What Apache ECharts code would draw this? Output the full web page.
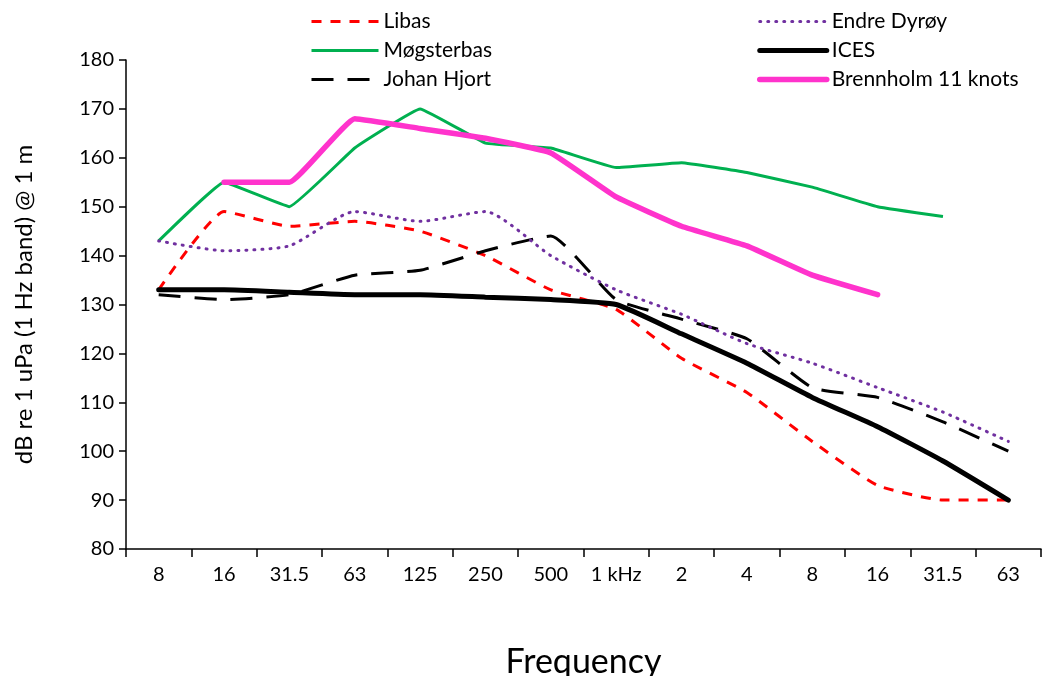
<!DOCTYPE html>
<html><head><meta charset="utf-8">
<script src="https://cdn.jsdelivr.net/npm/echarts@6/dist/echarts.min.js"></script>
<style>html,body{margin:0;padding:0;background:#fff}#c{width:1046px;height:676px}</style>
</head><body><div id="c"></div>
<script>
const categories = ['8','16','31.5','63','125','250','500','1 kHz','2','4','8','16','31.5','63'];
const libas = [133,149,146,147,145,140,133,129,119,112,102,93,90,90];
const mogsterbas = [143,155,150,162,170,163,162,158,159,157,154,150,148,null];
const johanHjort = [132,131,132,136,137,141,144,131,127,123,113,111,106,100];
const endreDyroy = [143,141,142,149,147,149,140,133,128,122,118,113,108,102];
const ices = [133,133,132.5,132,132,131.5,131,130,124,118,111,105,98,90];
const brennholm = [null,155,155,168,166,164,161,152,146,142,136,132,null,null];
const yTicks = {min:80, max:180, interval:10};

const font = 'Lato, "Liberation Sans", sans-serif';
const chart = echarts.init(document.getElementById('c'), null, {renderer:'canvas'});
const styles = {
  'Libas': {color:'#FF0000', width:3, type:[10,9], smooth:0.15, cap:'butt'},
  'Møgsterbas': {color:'#00B050', width:3, type:'solid', smooth:0.08, cap:'butt'},
  'Johan Hjort': {color:'#000000', width:3, type:[22,14], smooth:0.15, cap:'butt'},
  'Endre Dyrøy': {color:'#7030A0', width:3, type:[1,7], smooth:0.2, cap:'round'},
  'ICES': {color:'#000000', width:5, type:'solid', smooth:0.15, cap:'round'},
  'Brennholm 11 knots': {color:'#FF33CC', width:5.5, type:'solid', smooth:0.1, cap:'round'}
};
function s(name, data){
  const st = styles[name];
  return {name, type:'line', data, symbol:'none', showSymbol:false, smooth: st.smooth, connectNulls:false,
    lineStyle:{color:st.color, width:st.width, type:st.type, cap:st.cap}, itemStyle:{color:st.color}, z: 2};
}
function legendItem(name){
  const st = styles[name];
  return {name, itemStyle:{opacity:0, borderWidth:0},
    lineStyle:{color:st.color, width:st.width, type:st.type, cap:st.cap}};
}
const legendCommon = {orient:'vertical', top:6, itemWidth:67, itemHeight:10, itemGap:8,
  itemStyle:{opacity:0, borderWidth:0},
  textStyle:{fontFamily:font, fontSize:21, color:'#000'}};
chart.setOption({
  animation:false,
  grid:{left:126, top:60, right:5, bottom:127, containLabel:false, outerBoundsMode:'none'},
  legend:[
    Object.assign({left:305, data:['Libas','Møgsterbas','Johan Hjort'].map(legendItem)}, legendCommon),
    Object.assign({left:752, data:['Endre Dyrøy','ICES','Brennholm 11 knots'].map(legendItem)}, legendCommon)
  ],
  xAxis:{type:'category', data:categories, boundaryGap:true,
    name:'Frequency', nameLocation:'middle', nameGap:96,
    nameTextStyle:{fontFamily:font, fontSize:34, color:'#000'},
    axisLine:{lineStyle:{color:'#000', width:1.5}},
    axisTick:{show:true, inside:false, length:8, alignWithLabel:false, lineStyle:{color:'#000', width:1.5}},
    axisLabel:{fontFamily:font, fontSize:20, color:'#000', margin:16, interval:0},
    splitLine:{show:false}},
  yAxis:{type:'value', min:yTicks.min, max:yTicks.max, interval:yTicks.interval,
    name:'dB re 1 uPa (1 Hz band) @ 1 m', nameLocation:'middle', nameGap:90, nameRotate:90,
    nameTextStyle:{fontFamily:font, fontSize:24, color:'#000'},
    axisLine:{show:true, lineStyle:{color:'#000', width:1.5}},
    axisTick:{show:true, inside:false, length:7, lineStyle:{color:'#000', width:1.5}},
    axisLabel:{fontFamily:font, fontSize:20, color:'#000', margin:12},
    splitLine:{show:false}},
  series:['Libas','Møgsterbas','Johan Hjort','Endre Dyrøy','ICES','Brennholm 11 knots']
    .map((n, i) => s(n, [libas, mogsterbas, johanHjort, endreDyroy, ices, brennholm][i]))
});
</script></body></html>
